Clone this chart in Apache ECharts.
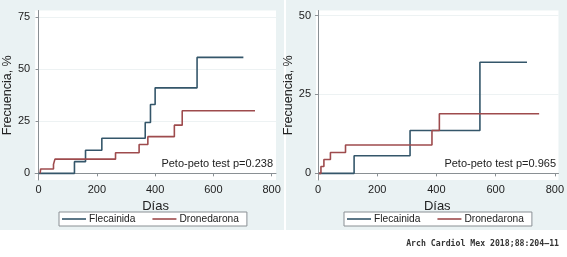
<!DOCTYPE html>
<html>
<head>
<meta charset="utf-8">
<script src="https://cdn.jsdelivr.net/npm/echarts@6/dist/echarts.min.js"></script>
<style>
  html, body { margin: 0; padding: 0; background: #fff; }
  #chart { width: 567px; height: 257px; }
</style>
</head>
<body>
<div id="chart"></div>
<script>
// days / cumulative frequency (%)
var flecA = [[0, 0], [123, 5.6], [161, 11.1], [217, 16.8], [366, 24.4], [384, 33.0], [400, 41.0], [544, 55.6], [703, 55.6]];
var droA = [[5, 0], [7, 2.1], [51, 4.3], [56, 6.8], [264, 9.9], [345, 13.8], [375, 17.6], [466, 23.1], [493, 30.0], [743, 30.0]];
var flecB = [[3, 0], [122, 5.6], [311, 13.6], [547, 35.2], [706, 35.2]];
var droB = [[3, 0], [10, 2.2], [20, 4.4], [42, 6.6], [93, 9.0], [385, 13.6], [410, 18.9], [747, 18.9]];

var xTicks = [0, 200, 400, 600, 800];
var yTicksA = [0, 25, 50, 75];
var yTicksB = [0, 25, 50];
var pvalA = 'Peto-peto test p=0.238';
var pvalB = 'Peto-peto test p=0.965';
var source = 'Arch Cardiol Mex 2018;88:204–11';

var BLUE = '#34566a';
var RED = '#9e4b4d';
var PANEL = '#eaf2f3';
var FONT = 'Liberation Sans';

function xAxis(grid, min, max) {
  return {
    type: 'value', gridIndex: grid, min: min, max: max,
    name: 'Días', nameLocation: 'middle', nameGap: 13,
    nameTextStyle: { fontFamily: FONT, fontSize: 13, color: '#222' },
    axisLine: { show: true, lineStyle: { color: '#8a9094', width: 1 } },
    axisTick: { show: true, length: 3, customValues: xTicks, lineStyle: { color: '#8a9094' } },
    axisLabel: { customValues: xTicks, margin: 4, fontFamily: FONT, fontSize: 11, color: '#222' },
    splitLine: { show: false }
  };
}

function yAxis(grid, min, max, ticks) {
  return {
    type: 'value', gridIndex: grid, min: min, max: max,
    name: 'Frecuencia, %', nameLocation: 'middle', nameGap: 16,
    nameTextStyle: { fontFamily: FONT, fontSize: 12.5, color: '#222' },
    axisLine: { show: true, lineStyle: { color: '#8a9094', width: 1 } },
    axisTick: { show: true, length: 3, customValues: ticks, lineStyle: { color: '#8a9094' } },
    axisLabel: { customValues: ticks, margin: 5, fontFamily: FONT, fontSize: 11, color: '#222' },
    splitLine: { show: true, lineStyle: { color: '#edf2f3', width: 1 } }
  };
}

function km(name, data, color, idx) {
  return {
    name: name, type: 'line', step: 'end', data: data,
    xAxisIndex: idx, yAxisIndex: idx,
    showSymbol: false, symbol: 'none', silent: true,
    lineStyle: { color: color, width: 1.6 },
    itemStyle: { color: color }
  };
}

function legend(left, top) {
  return {
    left: left, top: top, orient: 'horizontal',
    data: ['Flecainida', 'Dronedarona'],
    icon: 'rect', itemWidth: 24, itemHeight: 1.6, itemGap: 17,
    padding: [2, 8, 2, 3], backgroundColor: '#fff',
    borderColor: '#8a9094', borderWidth: 1, borderRadius: 0,
    textStyle: { fontFamily: FONT, fontSize: 10.2, color: '#222', padding: [0, 0, 0, -2] },
    selectedMode: false
  };
}

var chart = echarts.init(document.getElementById('chart'), null, { renderer: 'canvas' });

chart.setOption({
  animation: false,
  backgroundColor: '#fff',
  graphic: [
    { type: 'rect', z: -10, shape: { x: 0, y: 0, width: 284, height: 230 }, style: { fill: PANEL } },
    { type: 'rect', z: -10, shape: { x: 286, y: 0, width: 281, height: 230 }, style: { fill: PANEL } },
    { type: 'text', z: 10, x: 273, y: 158, style: { text: pvalA, textAlign: 'right', font: '11px "Liberation Sans"', fill: '#222' } },
    { type: 'text', z: 10, x: 556, y: 158, style: { text: pvalB, textAlign: 'right', font: '11px "Liberation Sans"', fill: '#222' } },
    { type: 'text', z: 10, x: 559, y: 240, style: { text: source, textAlign: 'right', font: 'bold 8.2px "DejaVu Sans Mono"', fill: '#333' } }
  ],
  grid: [
    { left: 28.5, top: 10.5, width: 247.5, height: 169.5, show: true, backgroundColor: '#fff', borderWidth: 0 },
    { left: 316, top: 10.5, width: 243.7, height: 169.5, show: true, backgroundColor: '#fff', borderWidth: 0 }
  ],
  xAxis: [xAxis(0, -12, 815), xAxis(1, -6.7, 812.4)],
  yAxis: [yAxis(0, -3.2, 78.1, yTicksA), yAxis(1, -2.1, 51.6, yTicksB)],
  legend: [legend(59, 212), legend(344, 212)],
  series: [
    km('Flecainida', flecA, BLUE, 0),
    km('Dronedarona', droA, RED, 0),
    km('Flecainida', flecB, BLUE, 1),
    km('Dronedarona', droB, RED, 1)
  ]
});
</script>
</body>
</html>
